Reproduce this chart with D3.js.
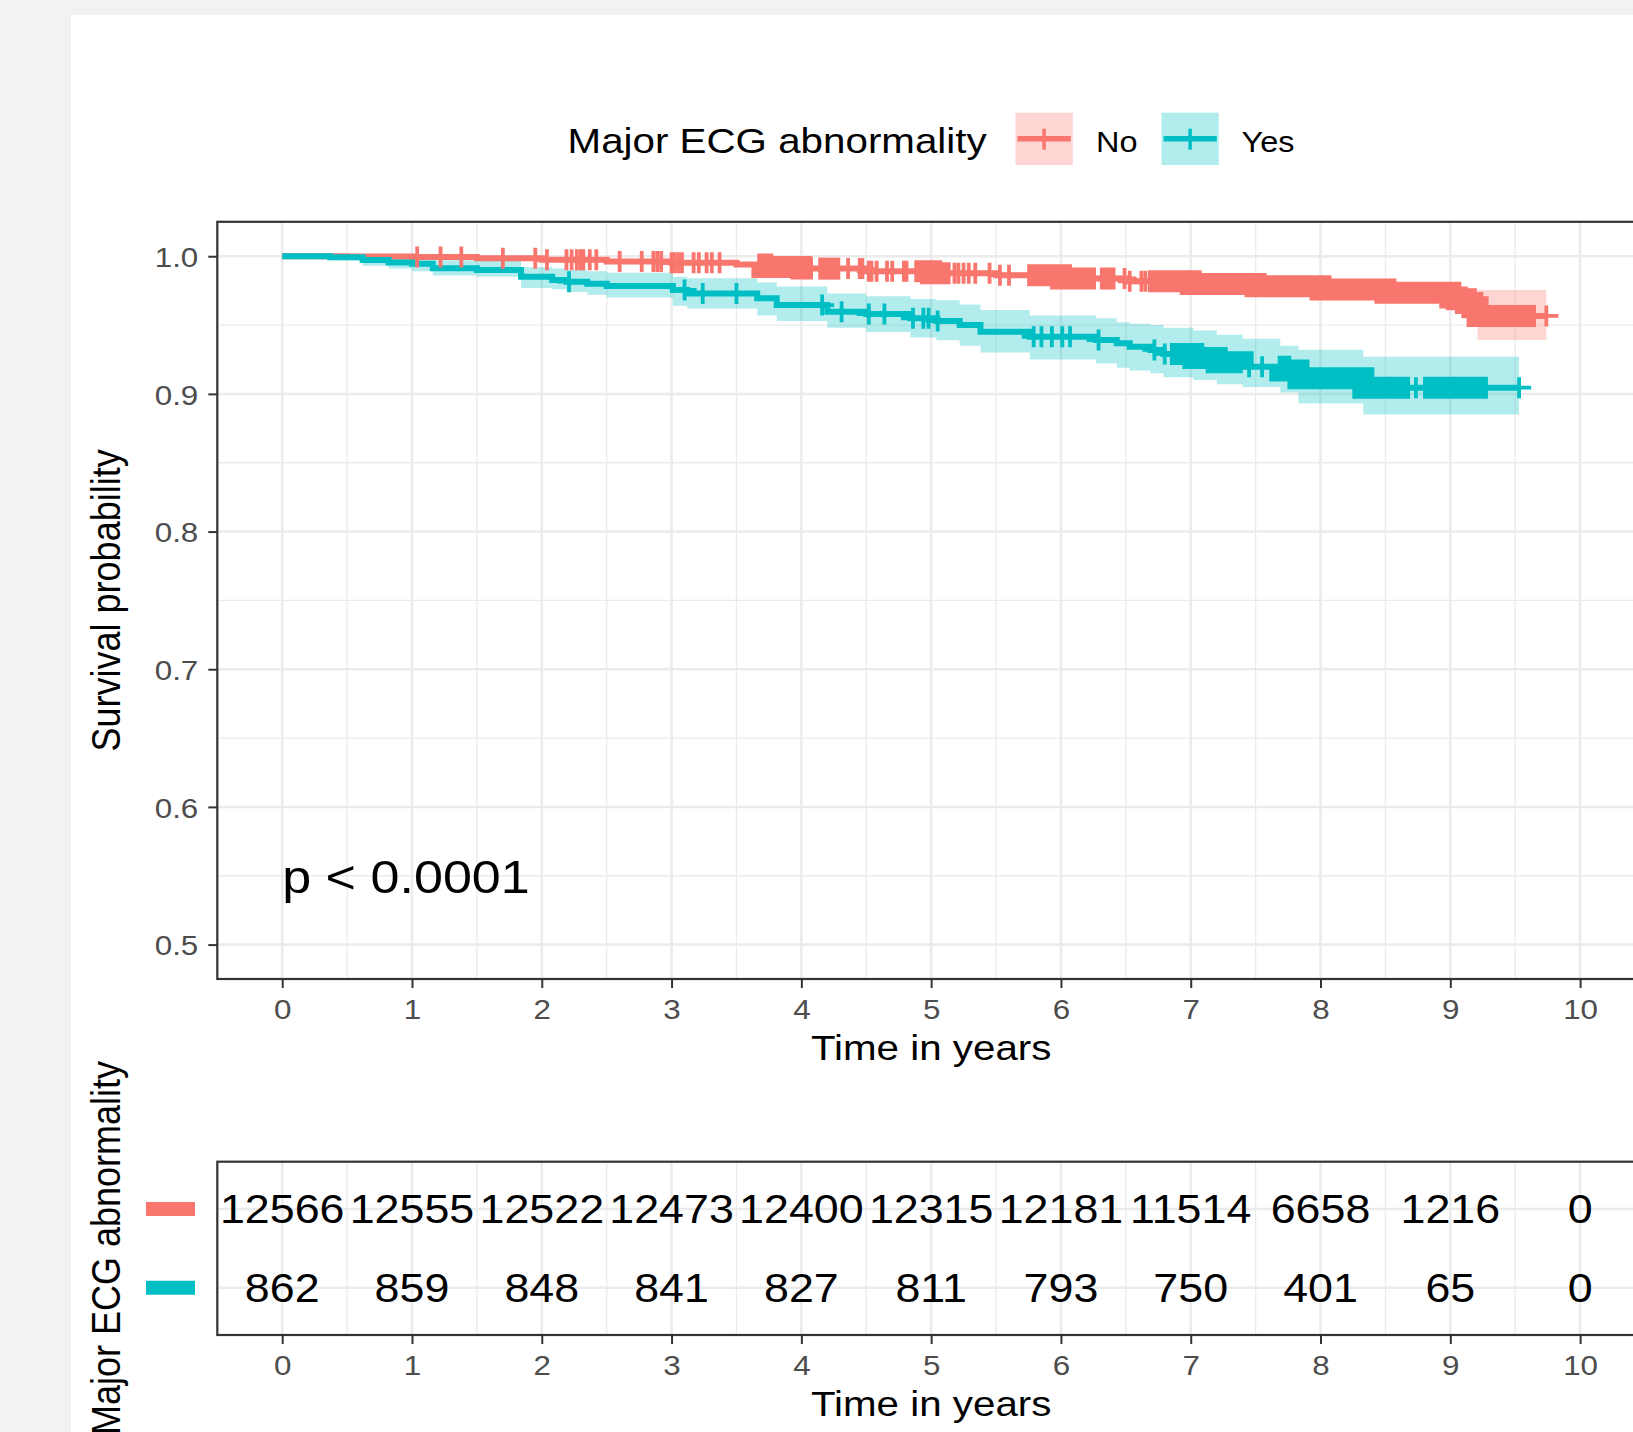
<!DOCTYPE html>
<html>
<head>
<meta charset="utf-8">
<script src="https://cdn.jsdelivr.net/npm/d3@7"></script>
<style>
  body { margin: 0; background: #f2f2f2; }
  svg { display: block; }
  text { font-family: "Liberation Sans", Arial, sans-serif; }
</style>
</head>
<body>
<svg id="chart" width="1633" height="1432"></svg>
<script>
// values
var groups = ["No", "Yes"];
var colors = ["#F8766D", "#00BFC4"];
var xTicks = [0, 1, 2, 3, 4, 5, 6, 7, 8, 9, 10];
var yTicks = [0.5, 0.6, 0.7, 0.8, 0.9, 1.0];

// No (red) curve
var noTime  = [0, 0.5, 1.0, 1.5, 2.0, 2.5, 3.0, 3.5, 3.7, 4.0, 4.5, 5.0, 5.5, 6.0, 6.5, 7.0, 7.5, 8.0, 8.5, 9.0, 9.05, 9.12, 9.17, 9.21];
var noSurv  = [1, 0.9998, 0.9994, 0.9985, 0.9974, 0.9962, 0.9952, 0.9940, 0.9922, 0.9910, 0.9890, 0.9876, 0.9862, 0.9838, 0.9818, 0.9798, 0.9782, 0.9758, 0.9735, 0.9701, 0.9687, 0.9660, 0.9630, 0.9566];
var noLower = [1, 0.9995, 0.9988, 0.9977, 0.9964, 0.9950, 0.9939, 0.9925, 0.9906, 0.9893, 0.9872, 0.9856, 0.9841, 0.9815, 0.9794, 0.9772, 0.9755, 0.9728, 0.9701, 0.9655, 0.9635, 0.9600, 0.9560, 0.9391];
var noUpper = [1, 1, 1, 0.9993, 0.9984, 0.9974, 0.9965, 0.9955, 0.9938, 0.9927, 0.9908, 0.9896, 0.9883, 0.9861, 0.9842, 0.9824, 0.9809, 0.9788, 0.9769, 0.9747, 0.9739, 0.9720, 0.9700, 0.9755];
var noEnd = 9.74;
var noCensor = [1.04, 1.22, 1.38, 1.70, 1.95, 2.04, 2.19, 2.23, 2.27, 2.30, 2.32, 2.37, 2.42, 2.60, 2.77, 2.86, 2.89, 2.92,
  3.00, 3.02, 3.05, 3.08, 3.17, 3.21, 3.27, 3.31, 3.37, 4.36, 4.45, 4.47, 4.52, 4.54, 4.58, 4.66, 4.70, 4.79, 4.81,
  5.18, 5.21, 5.25, 5.29, 5.34, 5.45, 5.53, 5.60, 6.49, 6.53, 6.62, 6.65, 9.74];
var noDense = [[3.66, 4.09], [4.13, 4.30], [4.87, 5.15], [5.74, 6.27], [6.30, 6.42], [6.67, 9.66]];

// Yes (cyan) curve
var yesTime  = [0, 0.37, 0.62, 0.82, 1.00, 1.16, 1.50, 1.84, 2.08, 2.19, 2.35, 2.50, 3.01, 3.12, 3.66, 3.81, 4.20, 4.50, 4.84, 5.04, 5.22, 5.38, 5.76, 6.27, 6.43, 6.53, 6.69, 6.79, 7.02, 7.20, 7.40, 7.69, 7.83, 8.33];
var yesSurv  = [1, 0.9992, 0.9972, 0.9955, 0.9946, 0.9912, 0.9900, 0.9850, 0.9827, 0.9815, 0.9800, 0.9784, 0.9755, 0.9730, 0.9694, 0.9645, 0.9597, 0.9580, 0.9549, 0.9529, 0.9500, 0.9452, 0.9415, 0.9391, 0.9367, 0.9343, 0.9319, 0.9290, 0.9260, 0.9230, 0.9198, 0.9170, 0.9113, 0.9045];
var yesLower = [1, 0.997, 0.993, 0.991, 0.989, 0.986, 0.985, 0.977, 0.976, 0.974, 0.972, 0.970, 0.964, 0.962, 0.957, 0.953, 0.948, 0.945, 0.941, 0.939, 0.935, 0.930, 0.925, 0.922, 0.919, 0.917, 0.915, 0.912, 0.910, 0.907, 0.905, 0.901, 0.893, 0.885];
var yesUpper = [1, 1, 1, 1, 0.999, 0.997, 0.997, 0.992, 0.991, 0.990, 0.989, 0.988, 0.985, 0.984, 0.981, 0.978, 0.973, 0.971, 0.969, 0.968, 0.965, 0.961, 0.957, 0.955, 0.952, 0.951, 0.950, 0.948, 0.946, 0.943, 0.940, 0.935, 0.932, 0.927];
var yesEnd = 9.53;
var yesCensor = [2.21, 3.10, 3.24, 3.50, 4.16, 4.31, 4.52, 4.64, 4.86, 4.94, 4.98, 5.05, 5.79, 5.85, 5.93, 6.01, 6.07, 6.29, 6.72, 6.80, 7.45, 7.55, 8.735, 9.53];
var yesDense = [[6.84, 7.40], [7.67, 8.69], [8.79, 9.29]];

// number at risk
var riskNo  = [12566, 12555, 12522, 12473, 12400, 12315, 12181, 11514, 6658, 1216, 0];
var riskYes = [862, 859, 848, 841, 827, 811, 793, 750, 401, 65, 0];

var curves = [
  {name: "No",  time: noTime,  surv: noSurv,  lower: noLower,  upper: noUpper,  end: noEnd,  censor: noCensor,  dense: noDense},
  {name: "Yes", time: yesTime, surv: yesSurv, lower: yesLower, upper: yesUpper, end: yesEnd, censor: yesCensor, dense: yesDense}
];
var riskRows = [riskNo, riskYes];

var W = 1633, H = 1432;
var sx = 1.12; // the source image is a bit wider than tall, text gets stretched too

var svg = d3.select('#chart');

svg.append('rect')
  .attr('x', 71).attr('y', 15)
  .attr('width', W - 71).attr('height', H - 15)
  .attr('fill', '#fff');

var x = d3.scaleLinear().domain([-0.5, 10.5]).range([217.3, 1645]);
var y = d3.scaleLinear().domain([0.475, 1.025]).range([979, 221.8]);

function stretch(sel, xx, yy) {
  return sel.attr('transform', 'translate(' + xx + ',' + yy + ') scale(' + sx + ',1)');
}

function survAt(c, t) {
  var i = d3.bisectRight(c.time, t) - 1;
  return c.surv[Math.max(0, i)];
}

/* ---------- main panel ---------- */
var minorX = d3.range(0.5, 10.5, 1);
var minorY = [0.55, 0.65, 0.75, 0.85, 0.95];

var grid = svg.append('g');
grid.selectAll('.mx').data(minorX).enter().append('line')
  .attr('x1', d => x(d)).attr('x2', d => x(d))
  .attr('y1', y(1.025)).attr('y2', y(0.475))
  .attr('stroke', '#ebebeb').attr('stroke-width', 1.3);
grid.selectAll('.my').data(minorY).enter().append('line')
  .attr('x1', x(-0.5)).attr('x2', x(10.5))
  .attr('y1', d => y(d)).attr('y2', d => y(d))
  .attr('stroke', '#ebebeb').attr('stroke-width', 1.3);
grid.selectAll('.Mx').data(xTicks).enter().append('line')
  .attr('x1', d => x(d)).attr('x2', d => x(d))
  .attr('y1', y(1.025)).attr('y2', y(0.475))
  .attr('stroke', '#ebebeb').attr('stroke-width', 2.5);
grid.selectAll('.My').data(yTicks).enter().append('line')
  .attr('x1', x(-0.5)).attr('x2', x(10.5))
  .attr('y1', d => y(d)).attr('y2', d => y(d))
  .attr('stroke', '#ebebeb').attr('stroke-width', 2.5);

// confidence bands
var band = d3.area()
  .x(d => x(d[0])).y0(d => y(d[1])).y1(d => y(d[2]))
  .curve(d3.curveStepAfter);
curves.forEach(function(c, k) {
  var pts = c.time.map((t, i) => [t, c.lower[i], c.upper[i]]);
  var last = c.time.length - 1;
  pts.push([c.end, c.lower[last], c.upper[last]]);
  svg.append('path').attr('d', band(pts))
    .attr('fill', colors[k]).attr('fill-opacity', 0.3);
});

// survival steps
var step = d3.line().x(d => x(d[0])).y(d => y(d[1])).curve(d3.curveStepAfter);
curves.forEach(function(c, k) {
  var pts = c.time.map((t, i) => [t, c.surv[i]]);
  pts.push([c.end, c.surv[c.time.length - 1]]);
  svg.append('path').attr('d', step(pts))
    .attr('fill', 'none').attr('stroke', colors[k]).attr('stroke-width', 6);
});

// censoring marks; runs too dense to tell apart become a solid strip
var arm = 10.5;
curves.forEach(function(c, k) {
  c.dense.forEach(function(r) {
    var pts = [[r[0], survAt(c, r[0])]];
    c.time.forEach(function(t, i) { if (t > r[0] && t < r[1]) pts.push([t, c.surv[i]]); });
    pts.push([r[1], survAt(c, r[1])]);
    svg.append('path').attr('d', step(pts))
      .attr('fill', 'none').attr('stroke', colors[k])
      .attr('stroke-width', 2 * arm + 1).attr('stroke-linecap', 'butt');
  });
  svg.append('g').selectAll('path').data(c.censor).enter().append('path')
    .attr('d', function(t) {
      var cx = x(t), cy = y(survAt(c, t));
      return 'M' + (cx - 12) + ',' + cy + 'H' + (cx + 12) + 'M' + cx + ',' + (cy - arm) + 'V' + (cy + arm);
    })
    .attr('fill', 'none').attr('stroke', colors[k]).attr('stroke-width', 3.8);
});

// p value
stretch(svg.append('text'), x(0), y(0.55) + 17)
  .style('font-size', '46.5px').attr('fill', '#000')
  .text('p < 0.0001');

// border + axes
svg.append('rect')
  .attr('x', x(-0.5)).attr('y', y(1.025))
  .attr('width', x(10.5) - x(-0.5)).attr('height', y(0.475) - y(1.025))
  .attr('fill', 'none').attr('stroke', '#333').attr('stroke-width', 2.2);

function styleAxis(g) {
  g.select('.domain').remove();
  g.selectAll('.tick line').attr('stroke', '#333').attr('stroke-width', 2);
  g.selectAll('.tick text').style('font-size', '28px')
    .style('font-family', '"Liberation Sans", Arial, sans-serif').attr('fill', '#4d4d4d');
}

var xAxis = d3.axisBottom(x).tickValues(xTicks).tickSize(9).tickPadding(11).tickFormat(d3.format('d'));
svg.append('g')
  .attr('transform', 'translate(0,' + y(0.475) + ')')
  .call(xAxis)
  .call(styleAxis)
  .selectAll('.tick text')
    .attr('transform', 'scale(' + sx + ',1)');

var yAxis = d3.axisLeft(y).tickValues(yTicks).tickSize(9).tickFormat(d3.format('.1f'));
svg.append('g')
  .attr('transform', 'translate(' + x(-0.5) + ',0)')
  .call(yAxis)
  .call(styleAxis)
  .selectAll('.tick text')
    .attr('x', 0).attr('dy', '0.37em')
    .attr('transform', 'translate(-19,0) scale(' + sx + ',1)');

stretch(svg.append('text'), x(5), 1060)
  .attr('text-anchor', 'middle').style('font-size', '36px').text('Time in years');

svg.append('text')
  .attr('transform', 'translate(120,' + (y(0.475) + y(1.025)) / 2 + ') scale(' + sx + ',1) rotate(-90)')
  .attr('text-anchor', 'middle').style('font-size', '36px').text('Survival probability');

/* ---------- legend ---------- */
stretch(svg.append('text'), 567.6, 153.3)
  .style('font-size', '36px').text('Major ECG abnormality');

var keyX = [1015.5, 1161.5], labX = [1096, 1241.5];
var keys = svg.append('g').selectAll('g').data(groups).enter().append('g')
  .attr('transform', (d, i) => 'translate(' + keyX[i] + ',112.7)');
keys.append('rect')
  .attr('width', 57.3).attr('height', 52.3)
  .attr('fill', (d, i) => colors[i]).attr('fill-opacity', 0.3);
keys.append('line')
  .attr('x1', 2).attr('x2', 55.3).attr('y1', 26).attr('y2', 26)
  .attr('stroke', (d, i) => colors[i]).attr('stroke-width', 5.5);
keys.append('line')
  .attr('x1', 28.6).attr('x2', 28.6).attr('y1', 16).attr('y2', 37)
  .attr('stroke', (d, i) => colors[i]).attr('stroke-width', 3.5);
groups.forEach(function(g, i) {
  stretch(svg.append('text'), labX[i], 151.7).style('font-size', '29px').text(g);
});

/* ---------- risk table ---------- */
var yr = d3.scalePoint().domain(groups).range([1161.7, 1335]).padding(0.6);

var rgrid = svg.append('g');
rgrid.selectAll('.mx').data(minorX).enter().append('line')
  .attr('x1', d => x(d)).attr('x2', d => x(d))
  .attr('y1', 1161.7).attr('y2', 1335)
  .attr('stroke', '#ebebeb').attr('stroke-width', 1.3);
rgrid.selectAll('.Mx').data(xTicks).enter().append('line')
  .attr('x1', d => x(d)).attr('x2', d => x(d))
  .attr('y1', 1161.7).attr('y2', 1335)
  .attr('stroke', '#ebebeb').attr('stroke-width', 2.5);
rgrid.selectAll('.My').data(groups).enter().append('line')
  .attr('x1', x(-0.5)).attr('x2', x(10.5))
  .attr('y1', d => yr(d)).attr('y2', d => yr(d))
  .attr('stroke', '#ebebeb').attr('stroke-width', 2.5);

groups.forEach(function(g, k) {
  svg.append('g').selectAll('text').data(riskRows[k]).enter().append('text')
    .attr('transform', (d, i) => 'translate(' + x(xTicks[i]) + ',' + (yr(g) + 14.4) + ') scale(' + sx + ',1)')
    .attr('text-anchor', 'middle').style('font-size', '40px')
    .text(d => d);
});

svg.append('rect')
  .attr('x', x(-0.5)).attr('y', 1161.7)
  .attr('width', x(10.5) - x(-0.5)).attr('height', 1335 - 1161.7)
  .attr('fill', 'none').attr('stroke', '#333').attr('stroke-width', 2.2);

svg.append('g').selectAll('rect').data(groups).enter().append('rect')
  .attr('x', 146).attr('y', d => yr(d) - 7)
  .attr('width', 49).attr('height', 14)
  .attr('fill', (d, i) => colors[i]);

svg.append('g')
  .attr('transform', 'translate(0,1335)')
  .call(xAxis)
  .call(styleAxis)
  .selectAll('.tick text')
    .attr('transform', 'scale(' + sx + ',1)');

stretch(svg.append('text'), x(5), 1416)
  .attr('text-anchor', 'middle').style('font-size', '36px').text('Time in years');

// cut off at the bottom edge in the reference too
svg.append('text')
  .attr('transform', 'translate(120,1248) scale(' + sx + ',1) rotate(-90)')
  .attr('text-anchor', 'middle').style('font-size', '36px').text('Major ECG abnormality');
</script>
</body>
</html>
